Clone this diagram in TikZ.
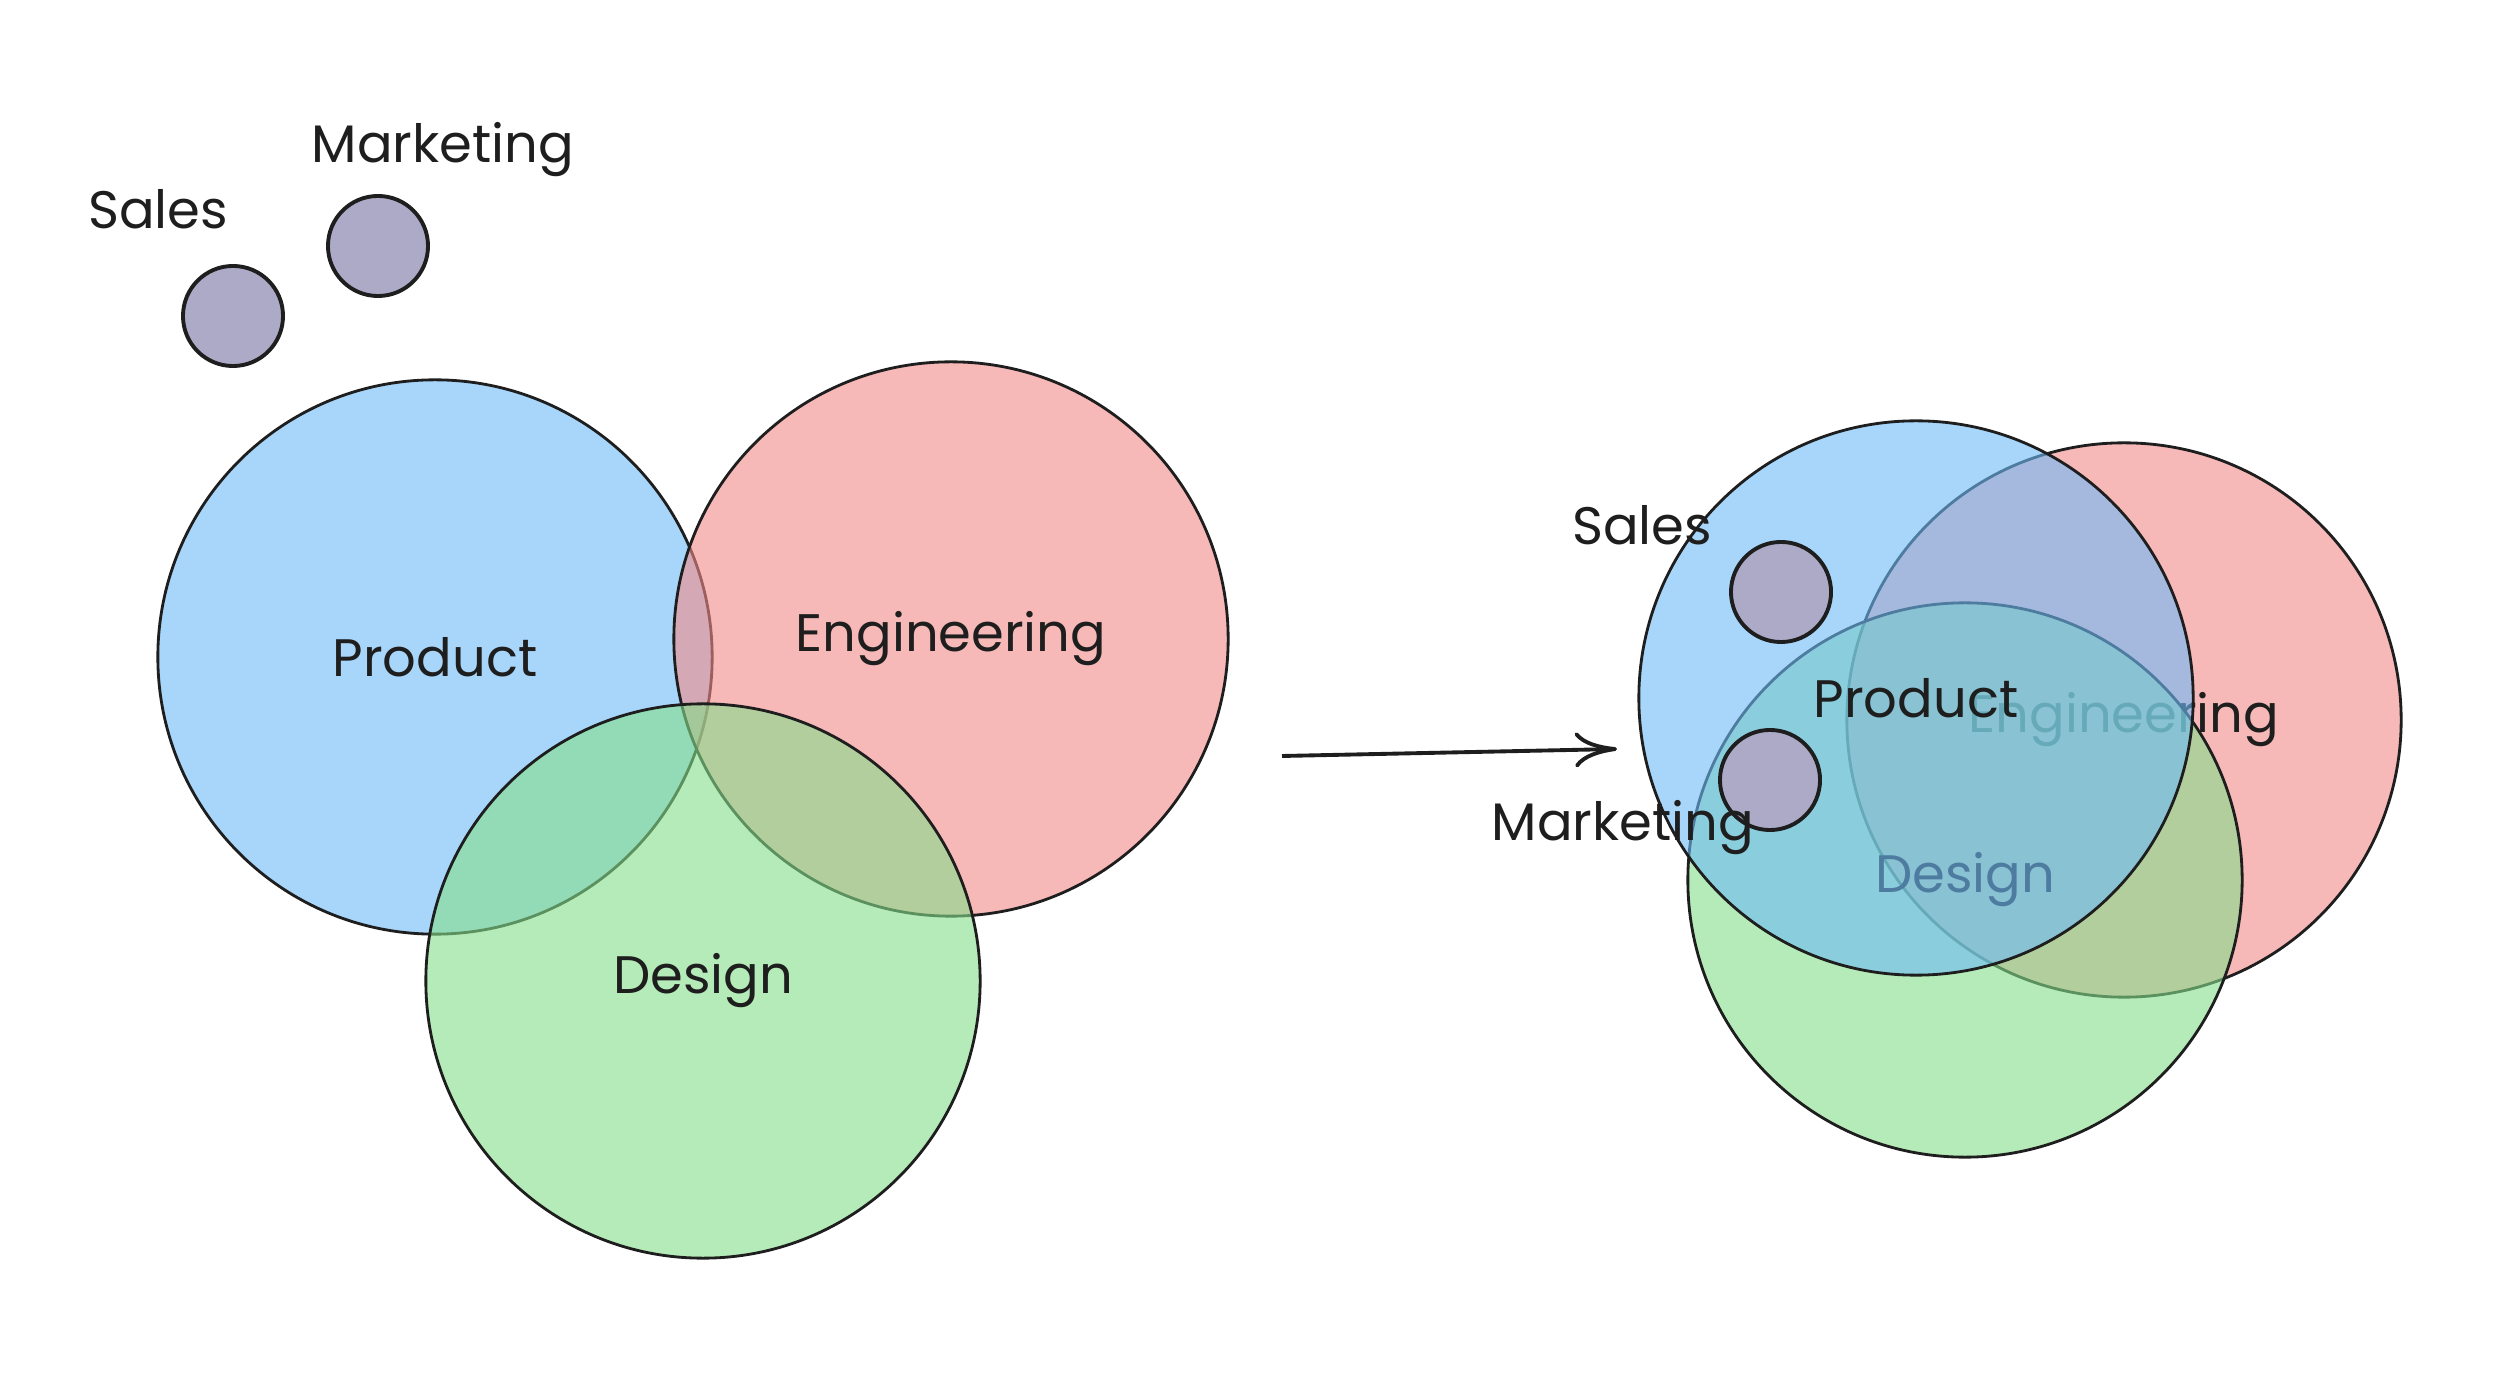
\documentclass[tikz,border=0pt]{standalone}
\usepackage{fontspec}
\setmainfont{Poppins}
\usetikzlibrary{arrows.meta}
\definecolor{ink}{RGB}{30,30,30}
\definecolor{pblue}{RGB}{110,187,247}
\definecolor{pred}{RGB}{243,138,138}
\definecolor{pgreen}{RGB}{133,222,138}
\definecolor{dotc}{RGB}{172,170,198}
\begin{document}
\begin{tikzpicture}[x=0.01cm,y=-0.01cm,
  setc/.style={circle, draw=ink, line width=0.8pt, minimum size=5.54cm, inner sep=0pt,
    fill opacity=0.6, text opacity=1, text=ink, font=\fontsize{15}{18}\selectfont},
  dotn/.style={circle, draw=ink, fill=dotc, line width=1.1pt, minimum size=1.0cm, inner sep=0pt},
  lbl/.style={text=ink, font=\fontsize{15}{18}\selectfont, inner sep=0pt}]
\useasboundingbox[fill=white] (0,0) rectangle (2500,1395);
% left
\node[setc, fill=pblue] (prodL) at (435,657) {Product};
\node[setc, fill=pred] (engL) at (951,639) {Engineering};
\node[setc, fill=pgreen] (desL) at (703,981) {Design};
\node[dotn] (salesDotL) at (233,316) {};
\node[dotn] (mktDotL) at (378,246) {};
\node[lbl] (salesL) at (158,209) {Sales};
\node[lbl] (mktL) at (443,150) {Marketing};
% arrow
\coordinate (aS) at (1282,756);
\coordinate (aE) at (1617,749);
\draw[ink, line width=1.1pt, -{To[length=12pt,width=10pt]}] (aS) -- (aE);
% right
\node[setc, fill=pred] (engR) at (2124,720) {Engineering};
\node[setc, fill=pgreen] (desR) at (1965,880) {Design};
\node[setc, fill=pblue] (prodR) at (1916,698) {Product};
\node[dotn] (salesDotR) at (1781,592) {};
\node[dotn] (mktDotR) at (1770,780) {};
\node[lbl] (salesR) at (1642,525) {Sales};
\node[lbl] (mktR) at (1623,828) {Marketing};
\end{tikzpicture}
\end{document}
